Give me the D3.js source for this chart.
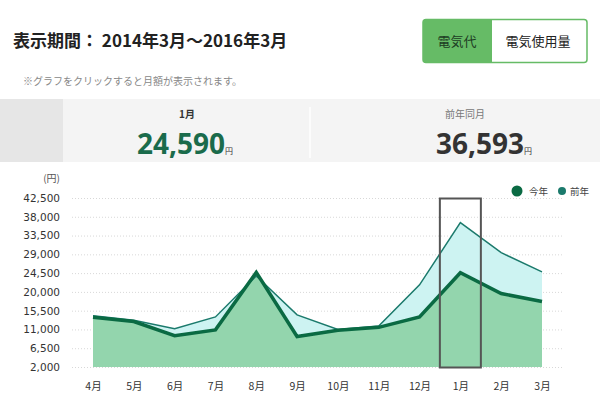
<!DOCTYPE html>
<head>
<meta charset="utf-8">
<title>電気代</title>
<script src="https://d3js.org/d3.v7.min.js"></script>
<style>
body { margin: 0; background: #fff; }
svg text { font-family: "Noto Sans CJK JP", "Noto Sans", sans-serif; }
</style>
</head>
<body>
<div id="chart"></div>
<script>

var months = ["4月","5月","6月","7月","8月","9月","10月","11月","12月","1月","2月","3月"];
var thisYear = [13900, 12900, 9500, 10900, 24700, 9300, 10800, 11500, 14000, 24590, 19600, 17700];
var lastYear = [14300, 13200, 11200, 14000, 23800, 14500, 11000, 11800, 21700, 36593, 29400, 24800];
var yTicks = [2000, 6500, 11000, 15500, 20000, 24500, 29000, 33500, 38000, 42500];
var selected = "1月";

var width = 600, height = 417;

var svg = d3.select("#chart")
  .append("svg")
    .attr("width", width)
    .attr("height", height);

// header
svg.append("text")
  .attr("x", 13).attr("y", 47)
  .style("font-size", "17px").style("font-weight", "bold").style("fill", "#222")
  .text("表示期間： 2014年3月～2016年3月");

svg.append("text")
  .attr("x", 23).attr("y", 85)
  .style("font-size", "10px").style("fill", "#888")
  .text("※グラフをクリックすると月額が表示されます。");

// toggle
svg.append("rect")
  .attr("x", 423).attr("y", 19.5).attr("width", 164).attr("height", 43).attr("rx", 3)
  .attr("fill", "#fff").attr("stroke", "#66bb66").attr("stroke-width", 1.5);
svg.append("path")
  .attr("d", "M492,19.5 H426 a3,3 0 0 0 -3,3 V59.5 a3,3 0 0 0 3,3 H492 Z")
  .attr("fill", "#66bb66");
svg.append("text")
  .attr("x", 457).attr("y", 46).attr("text-anchor", "middle")
  .style("font-size", "13px").style("fill", "#1d3b23")
  .text("電気代");
svg.append("text")
  .attr("x", 538).attr("y", 46).attr("text-anchor", "middle")
  .style("font-size", "13px").style("fill", "#222")
  .text("電気使用量");

// summary panel
svg.append("rect").attr("x", 0).attr("y", 99).attr("width", 600).attr("height", 63).attr("fill", "#f4f4f4");
svg.append("rect").attr("x", 0).attr("y", 99).attr("width", 63).attr("height", 63).attr("fill", "#e6e6e6");
svg.append("line").attr("x1", 310).attr("x2", 310).attr("y1", 107).attr("y2", 158)
  .attr("stroke", "#fff").attr("stroke-width", 1.5);

svg.append("text")
  .attr("x", 187).attr("y", 118).attr("text-anchor", "middle")
  .style("font-size", "10px").style("font-weight", "bold").style("fill", "#333")
  .text(selected);
svg.append("text")
  .attr("x", 465).attr("y", 118).attr("text-anchor", "middle")
  .style("font-size", "10px").style("fill", "#777")
  .text("前年同月");

var idx = months.indexOf(selected);
var big1 = svg.append("text")
  .attr("x", 185).attr("y", 154).attr("text-anchor", "middle")
  .style("font-family", "'Noto Sans', sans-serif").style("font-size", "28px")
  .style("font-weight", "bold").style("fill", "#1a6b4b");
big1.append("tspan").text(d3.format(",")(thisYear[idx]));
big1.append("tspan").style("font-size", "8px").style("font-weight", "normal")
  .style("font-family", "'Noto Sans CJK JP'").style("fill", "#333").text("円");
var big2 = svg.append("text")
  .attr("x", 484).attr("y", 154).attr("text-anchor", "middle")
  .style("font-family", "'Noto Sans', sans-serif").style("font-size", "28px")
  .style("font-weight", "bold").style("fill", "#333");
big2.append("tspan").text(d3.format(",")(lastYear[idx]));
big2.append("tspan").style("font-size", "8px").style("font-weight", "normal")
  .style("font-family", "'Noto Sans CJK JP'").text("円");

// chart
var x = d3.scalePoint()
  .domain(months)
  .range([93, 542]);

var y = d3.scaleLinear()
  .domain([2000, 42500])
  .range([367, 198]);

var yAxis = svg.append("g")
  .attr("transform", "translate(60,0)")
  .call(d3.axisLeft(y).tickValues(yTicks).tickSize(0).tickPadding(0).tickFormat(d3.format(",")));
yAxis.select(".domain").remove();
yAxis.selectAll("text")
  .style("font-family", "'DejaVu Sans', Verdana, sans-serif")
  .style("font-size", "10.5px").style("fill", "#333");

svg.append("g").selectAll("line")
  .data(yTicks)
  .enter().append("line")
    .attr("x1", 72).attr("x2", 563)
    .attr("y1", function(d) { return y(d) + 0.5; })
    .attr("y2", function(d) { return y(d) + 0.5; })
    .attr("stroke", "#d8d8d8").attr("stroke-dasharray", "1,2");

svg.append("text")
  .attr("x", 60).attr("y", 182).attr("text-anchor", "end")
  .style("font-size", "10px").style("fill", "#555")
  .text("(円)");

var xAxis = svg.append("g")
  .attr("transform", "translate(0,383)")
  .call(d3.axisBottom(x).tickSize(0).tickPadding(0));
xAxis.select(".domain").remove();
xAxis.selectAll("text")
  .style("font-family", "'Noto Sans CJK JP', sans-serif")
  .style("font-size", "10.5px").style("fill", "#333");

var area = d3.area()
  .x(function(d, i) { return x(months[i]); })
  .y0(y(2000))
  .y1(function(d) { return y(d); });
var line = d3.line()
  .x(function(d, i) { return x(months[i]); })
  .y(function(d) { return y(d); });

svg.append("path").datum(lastYear).attr("d", area).attr("fill", "#cdf3f2");
svg.append("path").datum(thisYear).attr("d", area).attr("fill", "#93d5ad");
svg.append("path").datum(lastYear).attr("d", line)
  .attr("fill", "none").attr("stroke", "#1b7a6c").attr("stroke-width", 1.5);
svg.append("path").datum(thisYear).attr("d", line)
  .attr("fill", "none").attr("stroke", "#0a6a43").attr("stroke-width", 3.5)
  .attr("stroke-linejoin", "miter");

// selected month box
svg.append("rect")
  .attr("x", x(selected) - 20.5).attr("y", 198.5)
  .attr("width", 41).attr("height", y(2000) - 198)
  .attr("fill", "none").attr("stroke", "#555").attr("stroke-width", 2);

// legend
svg.append("circle").attr("cx", 517).attr("cy", 191).attr("r", 5.5).attr("fill", "#0a6a43");
svg.append("text").attr("x", 529).attr("y", 194.5)
  .style("font-size", "9.5px").style("fill", "#444").text("今年");
svg.append("circle").attr("cx", 562).attr("cy", 191).attr("r", 4).attr("fill", "#1b7a6c");
svg.append("text").attr("x", 570).attr("y", 194.5)
  .style("font-size", "9.5px").style("fill", "#444").text("前年");

</script>
</body>
